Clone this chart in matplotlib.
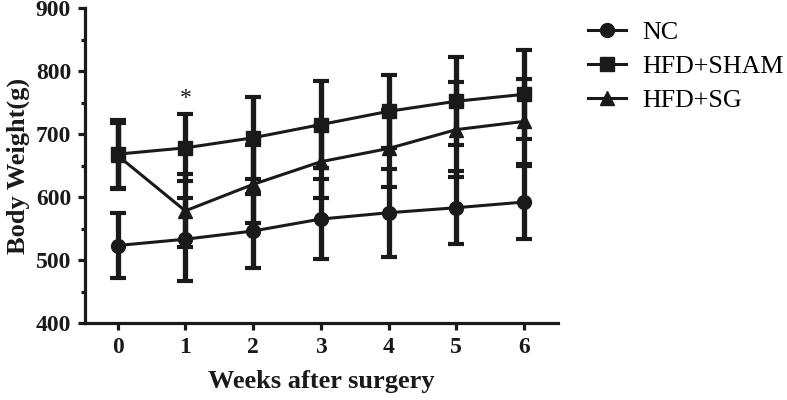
import matplotlib
matplotlib.use("Agg")
import matplotlib.pyplot as plt
from matplotlib.ticker import MultipleLocator
from matplotlib.lines import Line2D

weeks = [0, 1, 2, 3, 4, 5, 6]
nc_mean = [523, 533, 546, 565, 575, 583, 592]
nc_sd = [52, 66, 59, 63, 70, 58, 58]
sham_mean = [668, 678, 694, 715, 736, 752, 763]
sham_sd = [55, 53, 65, 69, 58, 70, 71]
sg_mean = [666, 578, 620, 656, 677, 707, 720]
sg_sd = [52, 58, 62, 57, 61, 76, 68]
labels = ["NC", "HFD+SHAM", "HFD+SG"]
markers = ["o", "s", "^"]

C = "#1a1a1a"
plt.rcParams["font.family"] = ["Liberation Serif", "DejaVu Serif"]

fig = plt.figure(figsize=(7.87, 4.0), dpi=100)
ax = fig.add_axes([85/787, 1-323/400, (558-85)/787, (323-8)/400])

series = [(nc_mean, nc_sd), (sham_mean, sham_sd), (sg_mean, sg_sd)]
msizes = [10, 9.5, 10]
for (m, s), mk, lab, ms in zip(series, markers, labels, msizes):
    ax.errorbar(weeks, m, yerr=s, color=C, marker=mk, markersize=ms,
                linewidth=2.2, elinewidth=3.8, capsize=6, capthick=3.0,
                label=lab, zorder=3)

ax.text(1, 757, "*", ha="center", va="center", fontsize=17, color=C)

ax.set_xlim(-0.48, 6.5)
ax.set_ylim(400, 900)
ax.set_xticks(weeks)
ax.yaxis.set_major_locator(MultipleLocator(100))
ax.yaxis.set_minor_locator(MultipleLocator(50))
for sp in ["top", "right"]:
    ax.spines[sp].set_visible(False)
for sp in ["left", "bottom"]:
    ax.spines[sp].set_linewidth(2.3)
    ax.spines[sp].set_color(C)
ax.tick_params(axis="both", which="major", length=5, width=2.3, color=C,
               labelsize=17, pad=5)
ax.tick_params(axis="y", which="minor", length=3, width=2.3, color=C)
for t in ax.get_xticklabels() + ax.get_yticklabels():
    t.set_fontweight("bold")
    t.set_color(C)
ax.set_xlabel("Weeks after surgery", fontsize=19, fontweight="bold", color=C, labelpad=9)
ax.set_ylabel("Body Weight(g)", fontsize=19, fontweight="bold", color=C, labelpad=4)

handles = [Line2D([], [], color=C, marker=mk, markersize=ms, linewidth=2.2)
           for mk, ms in zip(markers, msizes)]
fig.legend(handles, labels, loc="upper left", bbox_to_anchor=(588/787, 1-21/400),
           frameon=False, fontsize=18.7, handlelength=1.45, handletextpad=0.65,
           labelspacing=0.42, borderaxespad=0, borderpad=0)

fig.savefig("out.png", dpi=100)
